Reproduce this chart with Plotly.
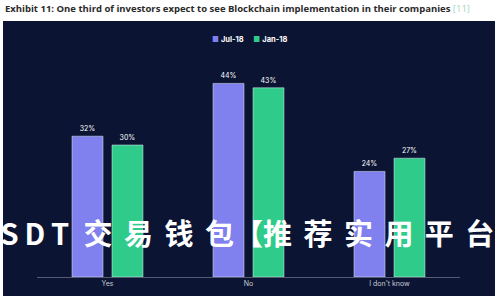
import plotly.graph_objects as go

categories = ["Yes", "No", "I don't know"]
jul18 = [32, 44, 24]
jan18 = [30, 43, 27]
series_names = ["Jul-18", "Jan-18"]

title_text = "Exhibit 11: One third of investors expect to see Blockchain implementation in their companies"
ref_text = "[11]"
LS = "\u2009"            # thin space between Latin letters
CS = "\u2004\u200a"      # gap between CJK characters
watermark = ("U" + LS + "S" + LS + "D" + LS + "T" + "\u2002" +
             CS.join(["交", "易", "钱", "包【推", "荐", "实", "用", "平", "台"]))

NAVY = "#0b1433"
C_JUL = "#8080ee"
C_JAN = "#2fcb8a"

W, H = 500, 300
ml, mr, mt, mb = 37, 40, 57, 23
pw, ph = W - ml - mr, H - mt - mb

def px(x):
    return (x - ml) / pw

def py(y):
    return (H - mb - y) / ph

fig = go.Figure()
fig.add_bar(x=categories, y=jul18, name=series_names[0], marker_color=C_JUL,
            text=[f"{v}%" for v in jul18], textposition="outside",
            textfont=dict(color="white", size=7, family="Inter"), cliponaxis=False)
fig.add_bar(x=categories, y=jan18, name=series_names[1], marker_color=C_JAN,
            text=[f"{v}%" for v in jan18], textposition="outside",
            textfont=dict(color="white", size=7, family="Inter"), cliponaxis=False)

legend_text = (f"<span style='color:{C_JUL}'>■</span> <b>{series_names[0]}</b>"
               f"\u2003 <span style='color:{C_JAN}'>■</span> <b>{series_names[1]}</b>")

fig.update_layout(
    width=W, height=H,
    margin=dict(l=ml, r=mr, t=mt, b=mb),
    paper_bgcolor="white",
    plot_bgcolor=NAVY,
    barmode="group",
    bargap=0.433,
    bargroupgap=0.225,
    showlegend=False,
    xaxis=dict(showgrid=False, showline=True, linecolor="#555b70", linewidth=1,
               tickfont=dict(color="#c8cad4", size=7, family="Inter"), ticks="",
               fixedrange=True),
    yaxis=dict(range=[0, 50], visible=False, fixedrange=True),
    shapes=[dict(type="rect", xref="paper", yref="paper", layer="below",
                 x0=px(3), x1=px(495), y0=py(296), y1=py(21),
                 fillcolor=NAVY, line=dict(width=0))],
    annotations=[
        dict(xref="paper", yref="paper", x=px(3), y=py(9), xanchor="left", yanchor="middle",
             showarrow=False,
             text=f"<b>{title_text}</b> <span style='color:#9fd8c4'>{ref_text}</span>",
             font=dict(color="#2a2a2a", size=9.5, family="Open Sans")),
        dict(xref="paper", yref="paper", x=px(250), y=py(39), xanchor="center", yanchor="middle",
             showarrow=False, text=legend_text,
             font=dict(color="white", size=7.5, family="Inter")),
        dict(xref="paper", yref="paper", x=px(496), y=py(232), xanchor="right", yanchor="middle",
             showarrow=False, text=f"<b>{watermark}</b>",
             font=dict(color="white", size=29, family="Noto Sans CJK SC")),
    ],
)

fig.write_html("out.html")
